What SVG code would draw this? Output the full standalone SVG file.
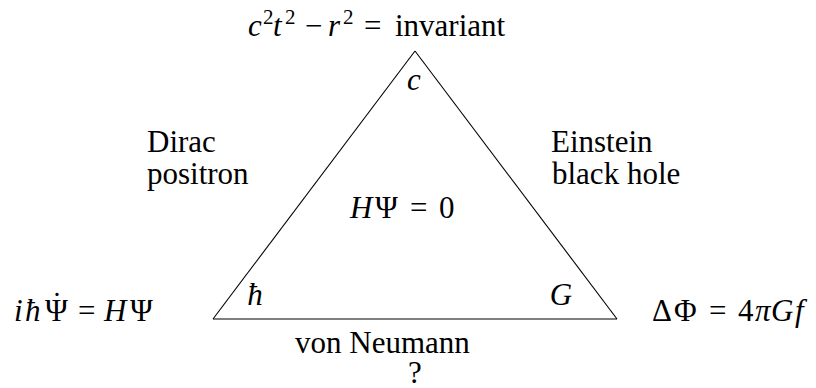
<svg xmlns="http://www.w3.org/2000/svg" width="816" height="388" viewBox="0 0 816 388">
<style>
text{font-family:"Liberation Serif","Times New Roman","DejaVu Serif",serif;font-size:31px;fill:#000}
.i{font-style:italic}
.s{font-size:21px}
.edge{stroke:#000;stroke-width:1.1;fill:none}
</style>
<rect width="816" height="388" fill="#fff"/>
<g id="connectors">
<path class="edge" d="M415 51 L213 319"/>
<path class="edge" d="M415 51 L617 319"/>
<path class="edge" d="M213 319 L617 319"/>
</g>
<g id="top">
<text y="36"><tspan class="i" x="248">c</tspan><tspan class="s" x="263" dy="-12">2</tspan><tspan class="i" x="273" dy="12">t</tspan><tspan class="s" x="285" dy="-12">2</tspan><tspan x="305" dy="12">−</tspan><tspan class="i" x="328">r</tspan><tspan class="s" x="343" dy="-12">2</tspan><tspan x="364" dy="12">=</tspan><tspan x="395">invariant</tspan></text>
<text class="i" x="414" y="90" text-anchor="middle">c</text>
</g>
<g id="left">
<text y="321"><tspan class="i" x="14">i</tspan><tspan class="i" x="25">ħ</tspan><tspan x="45">Ψ</tspan><tspan x="78">=</tspan><tspan class="i" x="104">H</tspan><tspan x="130">Ψ</tspan></text>
<text x="57" y="314" text-anchor="middle">˙</text>
<text class="i" x="255" y="305" text-anchor="middle">ħ</text>
</g>
<g id="right">
<text y="321"><tspan x="652">Δ</tspan><tspan x="674">Φ</tspan><tspan x="709">=</tspan><tspan x="738">4</tspan><tspan class="i" x="755">π</tspan><tspan class="i" x="771">G</tspan><tspan class="i" x="795">f</tspan></text>
<text class="i" x="561" y="305" text-anchor="middle">G</text>
</g>
<g id="dirac">
<text x="147" y="152">Dirac</text>
<text x="147" y="184">positron</text>
</g>
<g id="einstein">
<text x="551" y="152">Einstein</text>
<text x="552" y="184">black hole</text>
</g>
<g id="center">
<text y="218"><tspan class="i" x="350">H</tspan><tspan x="375">Ψ</tspan><tspan x="410">=</tspan><tspan x="439">0</tspan></text>
</g>
<g id="bottom">
<text x="295" y="353">von Neumann</text>
<text x="408" y="383">?</text>
</g>
</svg>
